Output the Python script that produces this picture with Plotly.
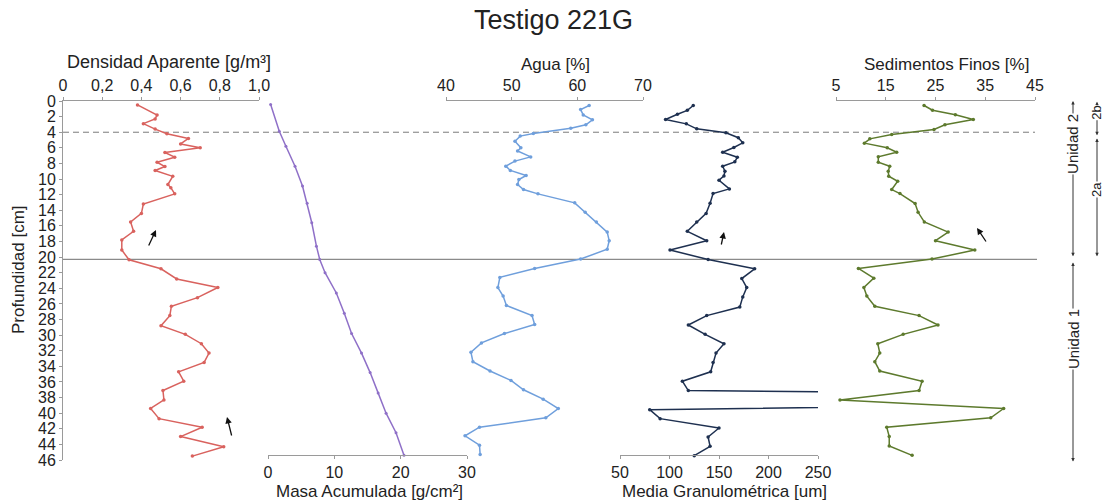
import plotly.graph_objects as go

# ---------------- data ----------------
dens_depth = [0.5, 1.8, 2.3, 2.9, 3.6, 4.2, 4.8, 5.5, 6.0, 6.6, 7.2, 7.85, 8.4, 8.9, 9.65,
              10.7, 11.1, 11.9, 13.2, 14.4, 15.5, 16.7, 17.8, 19.1, 20.35, 21.5, 22.8, 23.9,
              25.2, 26.3, 27.5, 28.8, 29.9, 31.1, 32.3, 33.5, 34.7, 35.9, 37.1, 38.3, 39.4,
              40.7, 41.8, 43.0, 44.3, 45.5]
densidad = [0.38, 0.48, 0.47, 0.41, 0.47, 0.53, 0.64, 0.60, 0.70, 0.52, 0.57, 0.48, 0.52,
            0.47, 0.56, 0.535, 0.55, 0.57, 0.41, 0.40, 0.345, 0.36, 0.30, 0.30, 0.337, 0.50,
            0.58, 0.79, 0.686, 0.553, 0.545, 0.50, 0.624, 0.706, 0.745, 0.72, 0.59, 0.616,
            0.51, 0.515, 0.447, 0.49, 0.71, 0.60, 0.82, 0.66]

masa_depth = [0.45, 3.87, 5.8, 8.36, 10.9, 13.1, 15.6, 18.6, 20.3, 22.0, 24.6, 27.2, 29.8,
              32.3, 34.8, 37.4, 40.0, 42.5, 45.4]
masa = [0.4, 1.7, 2.7, 4.07, 5.2, 5.9, 6.6, 7.3, 7.8, 8.6, 10.3, 11.5, 12.6, 14.1, 15.4,
        16.6, 17.8, 19.3, 20.5]

agua_depth = [0.58, 1.09, 1.78, 2.41, 3.05, 3.49, 4.17, 4.5, 5.15, 6.0, 6.4, 7.16, 7.7, 8.35,
              8.9, 9.55, 10.06, 10.7, 11.35, 11.9, 13.05, 14.25, 15.5, 16.8, 17.9, 19.0, 20.25,
              21.45, 22.6, 23.9, 25.0, 26.2, 27.5, 28.65, 29.8, 31.0, 32.2, 33.4, 34.6, 35.8,
              37.0, 38.2, 39.4, 40.6, 41.8, 42.9, 44.1, 45.3]
agua = [61.8, 60.5, 60.9, 62.3, 61.3, 59.0, 53.3, 51.3, 50.5, 51.4, 50.9, 52.9, 50.5, 49.1,
        49.8, 52.2, 51.1, 50.9, 51.8, 54.0, 59.6, 61.2, 62.9, 64.55, 64.85, 64.55, 60.5, 53.5,
        48.2, 47.9, 48.7, 49.2, 53.1, 53.5, 48.9, 45.4, 43.8, 44.1, 46.7, 49.9, 51.8, 54.8,
        57.1, 55.2, 45.1, 42.9, 45.1, 45.2]

media_depth = [0.58, 1.2, 1.7, 2.37, 2.93, 3.57, 4.08, 4.7, 5.36, 5.96, 6.56, 7.2, 7.8, 8.35,
               9.0, 9.6, 10.15, 11.26, 11.86, 13.1, 14.4, 15.5, 16.7, 17.9, 19.1, 20.3, 21.5,
               22.75, 23.9, 25.1, 26.4, 27.5, 28.7, 29.9, 31.1, 32.3, 33.5, 34.7, 35.9, 37.1,
               38.1, 39.55, 40.7, 41.9, 43.05, 44.25, 45.45]
media = [124, 118, 108, 96, 117, 127.5, 157, 169.5, 174, 165, 153.7, 168.5, 166, 153.7, 156,
         155, 150, 160.5, 144, 141, 137, 127.5, 118, 137.6, 100.5, 139, 186, 173, 178, 174,
         171, 137.6, 119, 136, 155, 147, 144, 141.6, 113, 119, 1000, 80, 90.5, 150, 139, 141,
         125]

finos_depth = [0.58, 1.18, 1.77, 2.37, 3.05, 3.65, 4.3, 4.85, 5.4, 6.0, 6.56, 7.15, 7.85, 8.36,
               9.0, 9.64, 10.28, 11.35, 11.86, 13.14, 14.26, 15.5, 16.8, 17.9, 19.1, 20.25,
               21.45, 22.7, 23.9, 25.0, 26.3, 27.5, 28.7, 29.9, 31.1, 32.3, 33.4, 34.6, 35.9,
               37.1, 38.3, 39.4, 40.6, 41.8, 43.0, 44.2, 45.4]
finos = [22.7, 24.4, 29.0, 32.6, 26.9, 24.7, 16.2, 11.8, 10.7, 15.3, 17.2, 13.5, 13.5, 15.8,
         15.5, 15.6, 17.4, 16.2, 17.85, 20.9, 21.5, 22.75, 27.55, 25.0, 32.9, 24.3, 9.5, 12.6,
         10.6, 11.2, 12.8, 21.7, 25.5, 18.5, 13.4, 13.8, 12.8, 13.8, 22.3, 21.7, 5.8, 38.7,
         36.1, 15.2, 15.7, 15.7, 20.3]

depth_ticks = list(range(0, 47, 2))
dens_ticks = [0, 0.2, 0.4, 0.6, 0.8, 1.0]
dens_ticktext = ["0", "0,2", "0,4", "0,6", "0,8", "1,0"]
masa_ticks = [0, 10, 20, 30]
agua_ticks = [40, 50, 60, 70]
media_ticks = [50, 100, 150, 200, 250]
finos_ticks = [5, 15, 25, 35, 45]

limite_2b_2a = 4.0
limite_u2_u1 = 20.3

# ---------------- layout helpers ----------------
W, H = 1106, 501
L, R, T, B = 63, 1040, 101, 460


def px(xp):
    return (xp - L) / (R - L)


def py(yp):
    return (B - yp) / (B - T)


RED = "#d9625e"
PURPLE = "#8f70c8"
BLUE = "#6f9fdc"
NAVY = "#1e3050"
GREEN = "#5d7a2d"
AX = "#9a9a9a"
TXT = "#222222"
FONT = "Liberation Sans, Arial, sans-serif"

fig = go.Figure()


def add_series(x, y, color, xa, msize=3.5):
    fig.add_trace(go.Scatter(
        x=x, y=y, xaxis=xa, yaxis="y", mode="lines+markers",
        line=dict(color=color, width=1.5),
        marker=dict(color=color, size=msize, symbol="circle"),
        hoverinfo="x+y"))


add_series(densidad, dens_depth, RED, "x")
add_series(masa, masa_depth, PURPLE, "x2", 3)
add_series(agua, agua_depth, BLUE, "x3")
add_series(media, media_depth, NAVY, "x4")
add_series(finos, finos_depth, GREEN, "x5")

tickfont = dict(family=FONT, size=16, color=TXT)


def xax(dom, rng, ticks, side, anchor="y", position=None, ticktext=None):
    d = dict(domain=[px(dom[0]), px(dom[1])], range=rng, tickvals=ticks, side=side,
             showline=True, linecolor=AX, linewidth=1, ticks="outside", ticklen=3,
             tickcolor=AX, showgrid=False, zeroline=False, automargin=False,
             tickfont=tickfont, fixedrange=True)
    if ticktext is not None:
        d["ticktext"] = ticktext
    if anchor == "free":
        d["anchor"] = "free"
        d["position"] = position
    else:
        d["anchor"] = anchor
    return d


layout = dict(
    width=W, height=H,
    margin=dict(l=L, r=W - R, t=T, b=H - B, pad=0),
    template="none",
    paper_bgcolor="white", plot_bgcolor="rgba(0,0,0,0)",
    showlegend=False,
    font=dict(family=FONT, size=16, color=TXT),
    yaxis=dict(range=[46, 0], tickvals=depth_ticks, anchor="x", side="left",
               showline=True, linecolor=AX, linewidth=1, ticks="outside", ticklen=3,
               tickcolor=AX, showgrid=False, zeroline=False, automargin=False,
               tickfont=tickfont, fixedrange=True),
    xaxis=xax((63, 259), [0, 1], dens_ticks, "top", ticktext=dens_ticktext),
    xaxis2=xax((268, 467), [0, 30], masa_ticks, "bottom", "free", py(455)),
    xaxis3=xax((446, 643), [40, 70], agua_ticks, "top"),
    xaxis4=xax((620, 818), [50, 250], media_ticks, "bottom", "free", py(455)),
    xaxis5=xax((836, 1035), [5, 45], finos_ticks, "top"),
)
fig.update_layout(**layout)

# horizontal unit boundaries
fig.add_shape(type="line", xref="paper", yref="y", x0=0, x1=px(1035),
              y0=limite_2b_2a, y1=limite_2b_2a, layer="below",
              line=dict(color="#7a7a7a", width=1, dash="6px,4px"))
fig.add_shape(type="line", xref="paper", yref="y", x0=0, x1=px(1037),
              y0=limite_u2_u1, y1=limite_u2_u1, layer="below",
              line=dict(color="#8a8a8a", width=1.2))

ann = []


def title(text, xp, yp, size=17, angle=0):
    ann.append(dict(text=text, x=px(xp), y=py(yp), xref="paper", yref="paper",
                    showarrow=False, xanchor="center", yanchor="middle", textangle=angle,
                    font=dict(family=FONT, size=size, color=TXT)))


# unit bracket arrows (depth based)
def bracket_arrow(xp, d_head, d_tail):
    ann.append(dict(text="", x=px(xp), y=d_head, xref="paper", yref="y",
                    ax=0, ay=d_tail, axref="pixel", ayref="y", showarrow=True,
                    arrowhead=2, arrowsize=0.7, arrowwidth=1, arrowcolor="#333"))


U_X, S_X = 1073, 1097
bracket_arrow(U_X, 0, 5.5)
bracket_arrow(U_X, 19.9, 5.5)
bracket_arrow(U_X, 20.7, 30.5)
bracket_arrow(U_X, 46.2, 30.5)
bracket_arrow(S_X, 0.1, 1.5)
bracket_arrow(S_X, 4.4, 1.5)
bracket_arrow(S_X, 4.8, 11.4)
bracket_arrow(S_X, 19.9, 11.4)


def unit_label(text, xp, depth, size=15):
    ann.append(dict(text=text, x=px(xp), y=depth, xref="paper", yref="y",
                    showarrow=False, textangle=-90, bgcolor="white", borderpad=0,
                    xanchor="center", yanchor="middle",
                    font=dict(family=FONT, size=size, color=TXT)))


unit_label("Unidad 2", U_X, 5.5)
unit_label("Unidad 1", U_X, 30.5)
unit_label("2b", S_X, 1.5, 13)
unit_label("2a", S_X, 11.4, 13)


# small trend arrows inside the panels (pixel placed)
def trend_arrow(hx, hy, tx, ty):
    ann.append(dict(text="", x=px(hx), y=py(hy), xref="paper", yref="paper",
                    ax=tx - hx, ay=ty - hy, showarrow=True, arrowhead=2, arrowsize=1,
                    arrowwidth=1.3, arrowcolor="#111"))


trend_arrow(156, 230, 148, 247)
trend_arrow(227, 417, 232, 437)
trend_arrow(724, 232, 721, 246)
trend_arrow(977, 228, 987, 243)

# titles
title("Testigo 221G", 553, 20, 27)
title("Densidad Aparente [g/m³]", 169, 62, 18)
title("Agua [%]", 555, 64)
title("Sedimentos Finos [%]", 946, 64)
title("Masa Acumulada [g/cm²]", 369, 491)
title("Media Granulométrica [um]", 724, 491)
title("Profundidad [cm]", 18, 270, 17, -90)

fig.update_layout(annotations=ann)

fig.write_html("out.html")
